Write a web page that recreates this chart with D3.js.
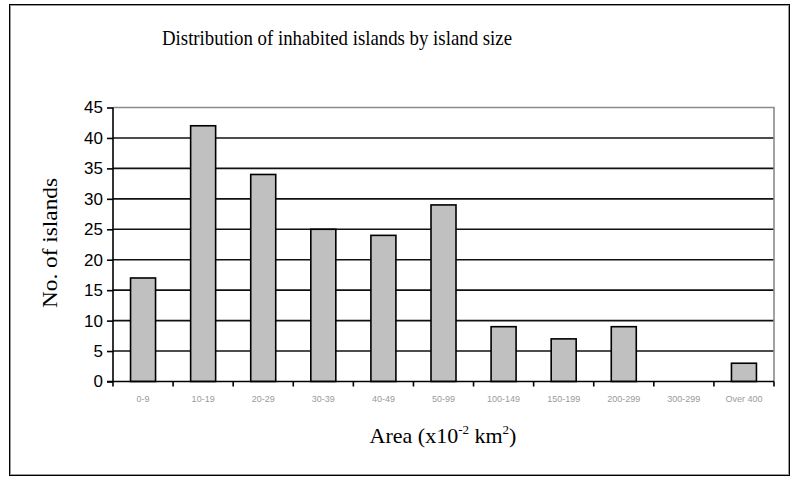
<!DOCTYPE html>
<html>
<head>
<meta charset="utf-8">
<script src="https://cdn.jsdelivr.net/npm/d3@7"></script>
<style>
  html, body { margin: 0; padding: 0; background: #fff; }
  svg { display: block; }
</style>
</head>
<body>
<svg id="chart" width="791" height="477"></svg>
<script>
// Island size classes (area in units of 10^-2 km^2) and island counts
const categories = ["0-9", "10-19", "20-29", "30-39", "40-49", "50-99",
                    "100-149", "150-199", "200-299", "300-299", "Over 400"];
const islandCounts = [17, 42, 34, 25, 24, 29, 9, 7, 9, 0, 3];
const yTicks = [0, 5, 10, 15, 20, 25, 30, 35, 40, 45];

const svg = d3.select("#chart");
const plot = { left: 113, right: 774, top: 107.5, bottom: 381.5 };
const serif = "Liberation Serif, Times New Roman, serif";
const sans = "Liberation Sans, Arial, sans-serif";

// Outer frame: thin black edge with a grey inner edge
svg.append("rect").attr("x", 9.5).attr("y", 4.5)
  .attr("width", 780).attr("height", 471)
  .attr("fill", "#fff").attr("stroke", "#000").attr("stroke-width", 1);
svg.append("rect").attr("x", 10.5).attr("y", 5.5)
  .attr("width", 778).attr("height", 469)
  .attr("fill", "none").attr("stroke", "#9a9a9a").attr("stroke-width", 1);

const xBand = d3.scaleBand().domain(categories).range([plot.left, plot.right]);
const y = d3.scaleLinear().domain([0, 45]).range([plot.bottom, plot.top]);
const barW = 25;

// Horizontal gridlines
svg.append("g").selectAll("line")
  .data(yTicks.filter(t => t > 0 && t < 45))
  .join("line")
  .attr("x1", plot.left).attr("x2", plot.right)
  .attr("y1", d => y(d)).attr("y2", d => y(d))
  .attr("stroke", "#111").attr("stroke-width", 1.6);

// Plot area border (top and right) in grey
svg.append("path")
  .attr("d", `M${plot.left},${y(45)}H${plot.right}V${plot.bottom}`)
  .attr("fill", "none").attr("stroke", "#8a8a8a").attr("stroke-width", 1.6);

// Bars
svg.append("g").selectAll("rect")
  .data(categories.map((c, i) => ({ c, v: islandCounts[i] })).filter(d => d.v > 0))
  .join("rect")
  .attr("x", d => xBand(d.c) + (xBand.bandwidth() - barW) / 2)
  .attr("width", barW)
  .attr("y", d => y(d.v))
  .attr("height", d => y(0) - y(d.v))
  .attr("fill", "#c0c0c0").attr("stroke", "#000").attr("stroke-width", 1.6);

// Y axis
const yAxis = d3.axisLeft(y).tickValues(yTicks).tickSize(6).tickPadding(4);
const gy = svg.append("g").attr("transform", `translate(${plot.left},0)`).call(yAxis);
gy.select(".domain").attr("stroke", "#000").attr("stroke-width", 1.6)
  .attr("d", `M0,${plot.top}V${plot.bottom}`);
gy.selectAll(".tick line").attr("stroke", "#000").attr("stroke-width", 1.6);
gy.selectAll(".tick text")
  .attr("font-family", sans).attr("font-size", 17).attr("fill", "#000");

// X axis: tick marks at category boundaries, labels centred in each band
const boundaries = d3.range(categories.length + 1)
  .map(i => plot.left + i * xBand.step());
const gx = svg.append("g");
gx.append("line").attr("x1", plot.left - 6).attr("x2", plot.right)
  .attr("y1", plot.bottom).attr("y2", plot.bottom)
  .attr("stroke", "#000").attr("stroke-width", 1.6);
gx.selectAll("line.tk").data(boundaries).join("line").attr("class", "tk")
  .attr("x1", d => d).attr("x2", d => d)
  .attr("y1", plot.bottom).attr("y2", plot.bottom + 5)
  .attr("stroke", "#000").attr("stroke-width", 1.6);
const xAxis = d3.axisBottom(xBand).tickSize(0).tickPadding(14);
const gxl = svg.append("g").attr("transform", `translate(0,${plot.bottom})`).call(xAxis);
gxl.select(".domain").remove();
gxl.selectAll(".tick text")
  .attr("font-family", sans).attr("font-size", 9).attr("fill", "#9a9a9a");

// Title
svg.append("text").attr("x", 162).attr("y", 45)
  .attr("text-anchor", "start")
  .attr("font-family", serif).attr("font-size", 22).attr("fill", "#000")
  .attr("textLength", 350).attr("lengthAdjust", "spacingAndGlyphs")
  .text("Distribution of inhabited islands by island size");

// Y axis title
svg.append("text")
  .attr("transform", `translate(57,243) rotate(-90)`)
  .attr("text-anchor", "middle")
  .attr("font-family", serif).attr("font-size", 22).attr("fill", "#000")
  .attr("textLength", 130).attr("lengthAdjust", "spacingAndGlyphs")
  .text("No. of islands");

// X axis title with superscripts
const xt = svg.append("text").attr("x", 443).attr("y", 443)
  .attr("text-anchor", "middle")
  .attr("font-family", serif).attr("font-size", 22).attr("fill", "#000");
xt.append("tspan").text("Area (x10");
xt.append("tspan").attr("dy", -9).attr("font-size", 13).text("-2");
xt.append("tspan").attr("dy", 9).text(" km");
xt.append("tspan").attr("dy", -9).attr("font-size", 13).text("2");
xt.append("tspan").attr("dy", 9).text(")");
</script>
</body>
</html>
